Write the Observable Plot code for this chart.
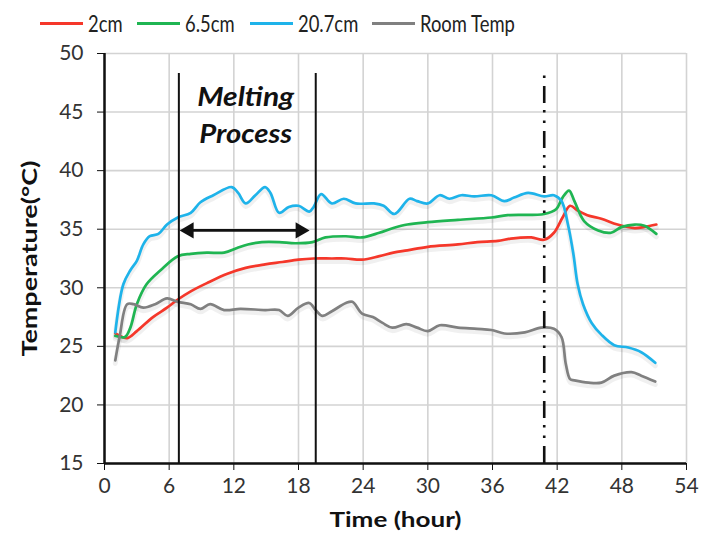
<!DOCTYPE html>
<html>
<head>
<meta charset="utf-8">
<script src="https://cdn.jsdelivr.net/npm/d3@7"></script>
<script src="https://cdn.jsdelivr.net/npm/@observablehq/plot@0.6"></script>
<style>
  html, body { margin: 0; padding: 0; background: #fff; }
  #wrap { position: relative; width: 705px; height: 533px; font-family: Lato, "DejaVu Sans", sans-serif; }
  #legend { position: relative; height: 40px; width: 705px; }
  .item { position: absolute; top: 8px; height: 30px; display: flex; align-items: center; color: #222; }
  .sw { display: inline-block; width: 43px; height: 3px; margin-right: 5px; }
  .lt { display: inline-block; font-size: 23px; transform: scaleX(0.8); transform-origin: left center; white-space: nowrap; }
</style>
</head>
<body>
<div id="wrap">
  <div id="legend"></div>
  <div id="chart"></div>
</div>
<script>
// ---- data (hour, °C) ----
const seriesNames = ["2cm", "6.5cm", "20.7cm", "Room Temp"];
const seriesColors = ["#f5372a", "#1fb552", "#1eb3ea", "#808080"];

const red2cm = [[1.0,26.1],[1.4,25.9],[2.1,25.7],[3.0,26.3],[4.5,27.5],[5.8,28.3],[6.8,29.0],[8.0,29.7],[9.5,30.4],[11.4,31.2],[13.1,31.7],[14.9,32.0],[16.5,32.2],[18.0,32.4],[19.4,32.5],[21.1,32.5],[22.4,32.5],[23.9,32.4],[25.5,32.7],[26.8,33.0],[28.1,33.2],[30.0,33.5],[32.8,33.7],[34.6,33.9],[36.5,34.0],[37.7,34.2],[39.6,34.3],[40.8,34.1],[41.7,34.7],[42.5,36.0],[43.2,37.0],[43.9,36.6],[44.8,36.2],[46.1,35.9],[47.6,35.4],[49.2,35.1],[50.1,35.2],[51.2,35.4]];

const green65cm = [[1.0,25.9],[1.9,25.8],[2.4,26.6],[3.0,28.6],[3.9,30.3],[5.2,31.5],[6.8,32.7],[8.0,32.9],[9.5,33.0],[11.1,33.0],[12.3,33.4],[13.3,33.7],[14.6,33.9],[16.2,33.9],[17.7,33.8],[19.3,33.9],[20.5,34.3],[22.4,34.4],[23.9,34.3],[25.5,34.7],[26.8,35.1],[28.1,35.4],[30.0,35.6],[32.8,35.8],[35.9,36.0],[37.4,36.2],[40.8,36.3],[41.9,36.7],[42.5,37.7],[43.1,38.3],[43.6,37.4],[44.5,35.7],[45.8,34.9],[47.0,34.7],[48.0,35.2],[49.2,35.4],[50.1,35.3],[51.2,34.6]];

const blue207cm = [[1.0,26.2],[1.75,30.3],[2.4,31.5],[3.0,32.3],[3.6,33.7],[4.2,34.4],[5.0,34.6],[5.8,35.4],[6.8,36.0],[8.0,36.4],[8.9,37.3],[10.1,37.9],[11.8,38.6],[12.4,38.1],[13.1,37.2],[14.0,37.9],[14.9,38.6],[15.4,38.1],[16.2,36.4],[17.1,36.9],[18.0,37.0],[19.0,36.5],[19.4,36.9],[20.1,38.0],[21.1,37.2],[22.2,37.6],[23.3,37.2],[25.0,37.2],[25.9,37.0],[26.9,36.3],[28.3,37.6],[29.0,37.4],[30.0,37.2],[31.1,37.9],[32.0,37.6],[33.1,37.9],[34.3,37.8],[35.9,37.9],[37.1,37.4],[38.0,37.7],[39.3,38.1],[40.8,37.8],[41.7,37.9],[42.4,37.4],[43.0,35.4],[43.5,32.9],[43.9,30.3],[44.4,28.6],[45.2,27.0],[46.1,26.0],[47.3,25.1],[48.6,24.9],[49.8,24.5],[51.1,23.6]];

const roomTemp = [[1.0,23.8],[1.4,25.8],[2.1,28.6],[2.7,28.6],[3.6,28.3],[4.7,28.6],[5.8,29.1],[6.8,28.8],[8.0,28.6],[8.9,28.2],[9.8,28.6],[11.1,28.1],[12.6,28.2],[14.9,28.1],[16.2,28.1],[17.0,27.6],[18.0,28.3],[19.0,28.7],[19.6,28.1],[20.2,27.6],[21.1,28.0],[22.4,28.7],[23.0,28.8],[23.9,27.8],[24.9,27.5],[25.8,27.0],[26.7,26.6],[28.0,26.9],[29.0,26.6],[30.0,26.3],[31.1,26.8],[32.8,26.6],[34.6,26.5],[35.9,26.4],[37.1,26.1],[39.0,26.2],[40.5,26.6],[41.7,26.5],[42.4,25.8],[42.8,23.5],[43.2,22.2],[43.6,22.1],[44.9,21.9],[46.1,21.9],[47.3,22.5],[48.9,22.8],[49.8,22.5],[51.1,22.0]];

const xTicks = [0, 6, 12, 18, 24, 30, 36, 42, 48, 54];
const yTicks = [15, 20, 25, 30, 35, 40, 45, 50];

// annotations (data units)
const meltingLines = [6.9, 19.6];
const endLine = [40.8];
const markerTop = 48.3;
const arrowEnds = [7.0, 19.0];
const arrowTemp = 34.9;
const noteLines = ["Melting", "Process"];
const noteX = 13.1;
const noteY = [46.25, 43.1];
const xTitle = "Time (hour)";
const yTitle = "Temperature(°C)";

// ---- legend ----
const legendLeft = [40, 137, 250, 372];
const legend = document.getElementById("legend");
seriesNames.forEach((n, i) => {
  const d = document.createElement("div");
  d.className = "item";
  d.style.left = legendLeft[i] + "px";
  d.innerHTML = `<span class="sw" style="background:${seriesColors[i]}"></span><span class="lt">${n}</span>`;
  legend.appendChild(d);
});

// ---- chart ----
const allSeries = [red2cm, green65cm, blue207cm, roomTemp];
const lineMarks = allSeries.map((s, i) =>
  Plot.line(s, {x: d => d[0], y: d => d[1], stroke: seriesColors[i], strokeWidth: 2.7, curve: "catmull-rom"})
);
const shadowMarks = allSeries.map((s, i) =>
  Plot.line(s, {x: d => d[0], y: d => d[1], stroke: "#000", strokeOpacity: 0.06, strokeWidth: 5, dy: 3, curve: "catmull-rom"})
);

const chart = Plot.plot({
  width: 705,
  height: 493,
  marginLeft: 104,
  marginRight: 19,
  marginTop: 13,
  marginBottom: 70,
  style: {fontFamily: "Lato, 'DejaVu Sans', sans-serif", fontSize: "21px", color: "#333", background: "#fff"},
  x: {domain: [0, 54]},
  y: {domain: [15, 50]},
  marks: [
    Plot.gridX(xTicks, {stroke: "#d3d3d3", strokeOpacity: 1, strokeWidth: 1.6}),
    Plot.gridY(yTicks, {stroke: "#d3d3d3", strokeOpacity: 1, strokeWidth: 1.6}),
    Plot.axisX({ticks: xTicks, tickSize: 7, tickPadding: 8, label: null, stroke: "#111"}),
    Plot.axisY({ticks: yTicks, tickSize: 7, tickPadding: 14, label: null, stroke: "#111"}),
    ...shadowMarks,
    ...lineMarks,
    Plot.ruleX([0], {y1: 15, y2: 50, stroke: "#111", strokeWidth: 2.5}),
    Plot.ruleY([15], {x1: 0, x2: 54, stroke: "#111", strokeWidth: 2.5}),
    Plot.ruleX(meltingLines, {y1: 15, y2: markerTop, stroke: "#111", strokeWidth: 2}),
    Plot.ruleX(endLine, {y1: 15, y2: markerTop, stroke: "#111", strokeWidth: 2.6, strokeDasharray: "17,8,2.5,8,2.5,7"}),
    Plot.ruleY([arrowTemp], {x1: arrowEnds[0] + 0.8, x2: arrowEnds[1] - 0.8, stroke: "#111", strokeWidth: 2.6}),
    Plot.dot([arrowEnds[0]], {x: d => d, y: () => arrowTemp, symbol: "triangle", r: 6, fill: "#111", stroke: "none", rotate: -90, dx: 9}),
    Plot.dot([arrowEnds[1]], {x: d => d, y: () => arrowTemp, symbol: "triangle", r: 6, fill: "#111", stroke: "none", rotate: 90, dx: -9}),
    Plot.text(noteLines, {x: () => noteX, y: (d, i) => noteY[i], text: d => d, fontSize: 26, fontWeight: "bold", fontStyle: "italic", fill: "#111"}),
    Plot.text([xTitle], {frameAnchor: "bottom", dy: 57, lineAnchor: "middle", fontSize: 21, fontWeight: "bold", fill: "#111"}),
    Plot.text([yTitle], {frameAnchor: "left", dx: -74, rotate: -90, fontSize: 21, fontWeight: "bold", fill: "#111"})
  ]
});

// stretch a few labels to the reference's wider lettering (anchor at start, centred by offset)
const stretch = {"Time (hour)": 132, "Temperature(°C)": 196, "Melting": 97, "Process": 93};
d3.select(chart).selectAll("text").each(function () {
  const t = this.textContent;
  if (t in stretch) {
    const len = stretch[t];
    const x0 = +(this.getAttribute("x") || 0);
    this.setAttribute("text-anchor", "start");
    this.setAttribute("x", x0 - len / 2);
    this.setAttribute("textLength", len);
    this.setAttribute("lengthAdjust", "spacingAndGlyphs");
  }
});
document.getElementById("chart").appendChild(chart);
</script>
</body>
</html>
